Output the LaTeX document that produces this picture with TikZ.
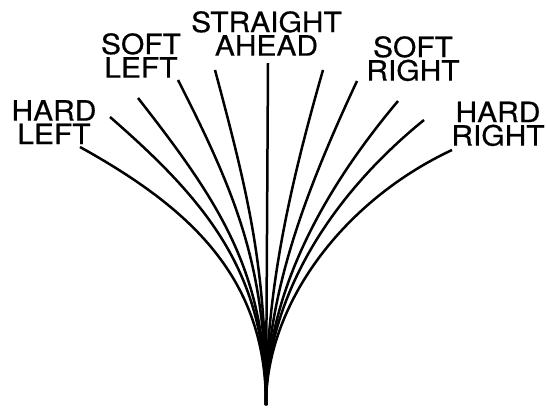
\documentclass[tikz,border=0pt]{standalone}
\usepackage{fontspec}
\setmainfont{TeX Gyre Heros}[FakeStretch=1.07,FakeBold=0.5]
\begin{document}
\begin{tikzpicture}[x=1pt,y=-1pt,
  fan/.style={line width=2.5pt, line cap=butt},
  lbl/.style={font=\fontsize{28}{23.5}\selectfont, align=center, inner sep=0pt, anchor=north}]
\useasboundingbox (0,0) rectangle (547,408);
% labels
\node[lbl] (hardleft)  at (54,100)    {HARD\\LEFT};
\node[lbl] (softleft)  at (141,33)    {SOFT\\LEFT};
\node[lbl] (straight)  at (266.5,11)  {STRAIGHT\\AHEAD};
\node[lbl] (softright) at (413,36)    {SOFT\\RIGHT};
\node[lbl] (hardright) at (498,101.5) {HARD\\RIGHT};
% common origin and end points
\coordinate (o) at (266,405);
\coordinate (t1) at (80,147);
\coordinate (t2) at (110,117);
\coordinate (t3) at (138,98);
\coordinate (t4) at (178,80);
\coordinate (t5) at (215,70);
\coordinate (t6) at (268,63);
\coordinate (t7) at (323,70);
\coordinate (t8) at (357,81);
\coordinate (t9) at (398,101);
\coordinate (t10) at (424,120);
\coordinate (t11) at (452,150);
% fan of paths
\draw[fan] (o) .. controls (266,278) and (191.1,208.6) .. (t1);
\draw[fan] (o) .. controls (266,274) and (208.9,202.9) .. (t2);
\draw[fan] (o) .. controls (266,272) and (219.9,202.8) .. (t3);
\draw[fan] (o) .. controls (266,270) and (239.2,200) .. (t4);
\draw[fan] (o) .. controls (266,269.4) and (250.1,201) .. (t5);
\draw[fan] (o) -- (t6);
\draw[fan] (o) .. controls (266,296.3) and (287.4,194) .. (t7);
\draw[fan] (o) .. controls (266,297.3) and (302.9,196.9) .. (t8);
\draw[fan] (o) .. controls (266,299) and (317,197.5) .. (t9);
\draw[fan] (o) .. controls (266,300.7) and (327.8,197.9) .. (t10);
\draw[fan] (o) .. controls (266,304) and (343.3,200.8) .. (t11);
\end{tikzpicture}
\end{document}
